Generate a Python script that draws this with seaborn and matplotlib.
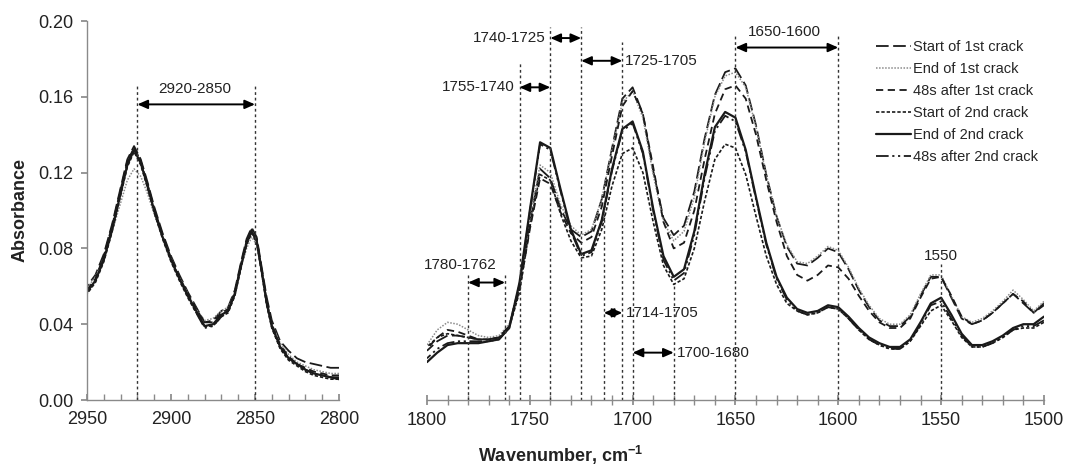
import numpy as np
import pandas as pd
import seaborn as sns
import matplotlib.pyplot as plt
from matplotlib.ticker import MultipleLocator, FormatStrFormatter

series_names = ["Start of 1st crack", "End of 1st crack", "48s after 1st crack",
                "Start of 2nd crack", "End of 2nd crack", "48s after 2nd crack"]

# painel esquerdo (C-H)
wn_left = [2950, 2945, 2940, 2935, 2930, 2926, 2922, 2918, 2914, 2910, 2905, 2900,
           2895, 2890, 2885, 2880, 2875, 2870, 2866, 2862, 2858, 2855, 2852, 2849,
           2846, 2843, 2840, 2835, 2830, 2825, 2820, 2815, 2810, 2805, 2800]
left_start1 = [0.060, 0.066, 0.077, 0.093, 0.112, 0.127, 0.134, 0.127, 0.115, 0.102, 0.088, 0.076,
               0.066, 0.057, 0.049, 0.041, 0.042, 0.047, 0.049, 0.058, 0.074, 0.085, 0.091, 0.086,
               0.070, 0.054, 0.042, 0.031, 0.026, 0.022, 0.020, 0.019, 0.018, 0.017, 0.017]
left_end1 = [0.059, 0.065, 0.075, 0.089, 0.104, 0.116, 0.122, 0.118, 0.109, 0.098, 0.086, 0.075,
             0.065, 0.056, 0.048, 0.042, 0.043, 0.047, 0.049, 0.057, 0.071, 0.080, 0.086, 0.082,
             0.067, 0.051, 0.040, 0.030, 0.024, 0.020, 0.018, 0.016, 0.015, 0.014, 0.014]
left_after1 = [0.058, 0.064, 0.076, 0.092, 0.111, 0.126, 0.133, 0.126, 0.114, 0.101, 0.087, 0.075,
               0.065, 0.056, 0.048, 0.041, 0.041, 0.046, 0.048, 0.057, 0.073, 0.084, 0.090, 0.085,
               0.069, 0.052, 0.040, 0.029, 0.023, 0.019, 0.017, 0.015, 0.014, 0.013, 0.013]
left_start2 = [0.056, 0.062, 0.073, 0.089, 0.108, 0.123, 0.131, 0.124, 0.112, 0.099, 0.085, 0.073,
               0.063, 0.054, 0.046, 0.039, 0.039, 0.044, 0.046, 0.055, 0.071, 0.082, 0.088, 0.083,
               0.067, 0.050, 0.038, 0.027, 0.021, 0.018, 0.015, 0.013, 0.012, 0.011, 0.011]
left_end2 = [0.057, 0.063, 0.074, 0.090, 0.109, 0.124, 0.132, 0.125, 0.113, 0.100, 0.086, 0.074,
             0.064, 0.055, 0.047, 0.039, 0.040, 0.045, 0.047, 0.056, 0.072, 0.083, 0.089, 0.084,
             0.068, 0.051, 0.039, 0.028, 0.022, 0.019, 0.016, 0.014, 0.013, 0.012, 0.011]
left_after2 = [0.057, 0.063, 0.075, 0.091, 0.110, 0.125, 0.133, 0.126, 0.113, 0.100, 0.086, 0.074,
               0.064, 0.055, 0.046, 0.038, 0.039, 0.044, 0.047, 0.056, 0.072, 0.083, 0.089, 0.084,
               0.068, 0.051, 0.039, 0.028, 0.022, 0.019, 0.016, 0.014, 0.013, 0.012, 0.012]

# painel direito (1800-1500), passo de 5 cm-1
wn_right = list(range(1800, 1499, -5))
right_start1 = [0.026, 0.031, 0.034, 0.034, 0.033, 0.032, 0.032, 0.033, 0.039, 0.060,
                0.094, 0.122, 0.117, 0.101, 0.090, 0.086, 0.089, 0.106, 0.133, 0.159,
                0.165, 0.151, 0.121, 0.096, 0.087, 0.092, 0.110, 0.138, 0.161, 0.173,
                0.175, 0.166, 0.145, 0.119, 0.097, 0.081, 0.072, 0.071, 0.075, 0.080,
                0.078, 0.069, 0.058, 0.049, 0.042, 0.039, 0.039, 0.044, 0.055, 0.065,
                0.065, 0.054, 0.043, 0.040, 0.042, 0.046, 0.051, 0.056, 0.051, 0.046,
                0.051]
right_end1 = [0.029, 0.037, 0.041, 0.040, 0.037, 0.034, 0.033, 0.034, 0.040, 0.061,
              0.096, 0.124, 0.120, 0.103, 0.092, 0.087, 0.090, 0.106, 0.132, 0.157,
              0.163, 0.149, 0.119, 0.094, 0.084, 0.089, 0.107, 0.136, 0.160, 0.171,
              0.173, 0.165, 0.144, 0.119, 0.097, 0.082, 0.073, 0.072, 0.076, 0.081,
              0.079, 0.070, 0.059, 0.050, 0.043, 0.040, 0.040, 0.045, 0.056, 0.066,
              0.066, 0.055, 0.044, 0.041, 0.043, 0.047, 0.052, 0.058, 0.053, 0.047,
              0.052]
right_after1 = [0.027, 0.033, 0.037, 0.036, 0.034, 0.032, 0.032, 0.033, 0.039, 0.058,
                0.090, 0.117, 0.114, 0.099, 0.088, 0.083, 0.086, 0.102, 0.129, 0.155,
                0.163, 0.151, 0.123, 0.094, 0.080, 0.083, 0.100, 0.127, 0.151, 0.164,
                0.166, 0.159, 0.140, 0.116, 0.094, 0.076, 0.066, 0.063, 0.066, 0.071,
                0.070, 0.064, 0.055, 0.047, 0.041, 0.038, 0.038, 0.043, 0.054, 0.064,
                0.065, 0.055, 0.044, 0.040, 0.042, 0.046, 0.051, 0.056, 0.052, 0.046,
                0.050]
right_start2 = [0.028, 0.033, 0.035, 0.034, 0.033, 0.032, 0.032, 0.033, 0.038, 0.057,
                0.091, 0.119, 0.116, 0.098, 0.084, 0.075, 0.076, 0.090, 0.113, 0.130,
                0.133, 0.120, 0.094, 0.071, 0.061, 0.064, 0.080, 0.105, 0.127, 0.135,
                0.133, 0.119, 0.097, 0.076, 0.061, 0.051, 0.047, 0.045, 0.046, 0.049,
                0.048, 0.043, 0.037, 0.032, 0.029, 0.027, 0.027, 0.031, 0.039, 0.047,
                0.050, 0.042, 0.033, 0.028, 0.028, 0.030, 0.033, 0.037, 0.038, 0.038,
                0.041]
right_end2 = [0.020, 0.025, 0.029, 0.030, 0.030, 0.030, 0.031, 0.032, 0.038, 0.062,
              0.100, 0.136, 0.133, 0.111, 0.090, 0.077, 0.079, 0.095, 0.122, 0.143,
              0.147, 0.131, 0.101, 0.076, 0.065, 0.069, 0.089, 0.119, 0.144, 0.152,
              0.149, 0.132, 0.107, 0.083, 0.065, 0.054, 0.048, 0.046, 0.047, 0.050,
              0.049, 0.044, 0.038, 0.033, 0.030, 0.028, 0.028, 0.032, 0.041, 0.051,
              0.054, 0.045, 0.035, 0.029, 0.029, 0.031, 0.034, 0.038, 0.040, 0.040,
              0.044]
right_after2 = [0.022, 0.027, 0.030, 0.031, 0.031, 0.031, 0.031, 0.032, 0.038, 0.061,
                0.099, 0.135, 0.132, 0.110, 0.089, 0.076, 0.078, 0.094, 0.121, 0.142,
                0.146, 0.130, 0.100, 0.074, 0.063, 0.067, 0.087, 0.117, 0.142, 0.150,
                0.147, 0.131, 0.106, 0.082, 0.064, 0.053, 0.047, 0.045, 0.046, 0.049,
                0.048, 0.043, 0.037, 0.032, 0.029, 0.027, 0.027, 0.031, 0.040, 0.050,
                0.052, 0.043, 0.034, 0.028, 0.028, 0.030, 0.033, 0.037, 0.039, 0.039,
                0.042]

# faixas marcadas (linhas verticais e setas)
left_marks = [2920, 2850]
left_marks_top = [0.167, 0.167]
right_marks = [1780, 1762, 1755, 1740, 1725, 1714, 1705, 1700, 1680, 1650, 1600, 1550]
right_marks_top = [0.066, 0.066, 0.178, 0.197, 0.197, 0.100, 0.189, 0.140, 0.060, 0.192, 0.192, 0.072]
arrow_from = [1780, 1755, 1740, 1725, 1714, 1700, 1650]
arrow_to = [1762, 1740, 1725, 1705, 1705, 1680, 1600]
arrow_y = [0.062, 0.165, 0.191, 0.179, 0.046, 0.025, 0.186]
band_labels = ["1780-1762", "1755-1740", "1740-1725", "1725-1705", "1714-1705", "1700-1680", "1650-1600", "1550"]
band_label_x = [1784, 1757.5, 1742.5, 1704, 1703.5, 1678.5, 1626, 1550]
band_label_y = [0.071, 0.165, 0.191, 0.179, 0.046, 0.025, 0.194, 0.076]
band_label_ha = ["center", "right", "right", "left", "left", "left", "center", "center"]

left_data = [left_start1, left_end1, left_after1, left_start2, left_end2, left_after2]
right_data = [right_start1, right_end1, right_after1, right_start2, right_end2, right_after2]

# --- Estilos ---
line_colors = ["#1a1a1a", "#8a8a8a", "#1a1a1a", "#1a1a1a", "#1a1a1a", "#1a1a1a"]
line_styles = [(0, (7, 2.5)), (0, (1, 1)), (0, (4, 2.5)), (0, (2, 1.2)), "-", (0, (7, 2, 1.2, 2, 1.2, 2))]
line_widths = [1.3, 1.1, 1.3, 1.2, 1.6, 1.3]

sns.set_theme(style="white")
plt.rcParams["font.family"] = ["Liberation Sans", "DejaVu Sans"]
plt.rcParams["mathtext.fontset"] = "custom"
plt.rcParams["mathtext.rm"] = "Liberation Sans"
plt.rcParams["mathtext.bf"] = "Liberation Sans:bold"

fig = plt.figure(figsize=(10.65, 4.73), dpi=100)
ax1 = fig.add_axes([0.0817, 0.1543, 0.2366, 0.8013])
ax2 = fig.add_axes([0.4009, 0.1543, 0.5793, 0.8013])

for i, name in enumerate(series_names):
    sns.lineplot(x=wn_left, y=left_data[i], ax=ax1, color=line_colors[i],
                 linestyle=line_styles[i], lw=line_widths[i], legend=False)
    sns.lineplot(x=wn_right, y=right_data[i], ax=ax2, color=line_colors[i],
                 linestyle=line_styles[i], lw=line_widths[i], label=name)

# --- Linhas verticais e setas ---
ax1.vlines(left_marks, 0, left_marks_top, colors="#333333", linestyles=(0, (2, 2)), lw=1)
ax2.vlines(right_marks, 0, right_marks_top, colors="#333333", linestyles=(0, (2, 2)), lw=1)

arrow_kw = dict(arrowstyle="<|-|>,head_length=0.5,head_width=0.22", color="black",
                lw=1.4, shrinkA=0, shrinkB=0, mutation_scale=12)
ax1.annotate("", xy=(left_marks[0], 0.156), xytext=(left_marks[1], 0.156), arrowprops=arrow_kw)
ax1.text(2886, 0.164, "2920-2850", fontsize=11, ha="center", va="center", color="#222222")
for a, b, y in zip(arrow_from, arrow_to, arrow_y):
    ax2.annotate("", xy=(a, y), xytext=(b, y), arrowprops=arrow_kw)
for lab, x, y, ha in zip(band_labels, band_label_x, band_label_y, band_label_ha):
    ax2.text(x, y, lab, fontsize=11, ha=ha, va="center", color="#222222")

# --- Eixos ---
for ax in (ax1, ax2):
    ax.set_ylim(0, 0.2)
    ax.set_xlabel("")
    ax.set_ylabel("")
    for s in ["top", "right"]:
        ax.spines[s].set_visible(False)
    for s in ["left", "bottom"]:
        ax.spines[s].set_color("#8a8a8a")
        ax.spines[s].set_linewidth(1)

ax1.set_xlim(2950, 2800)
ax1.xaxis.set_major_locator(MultipleLocator(50))
ax1.xaxis.set_minor_locator(MultipleLocator(10))
ax1.yaxis.set_major_locator(MultipleLocator(0.04))
ax1.yaxis.set_major_formatter(FormatStrFormatter("%.2f"))
ax1.tick_params(axis="x", which="both", direction="in", length=4, color="#8a8a8a",
                labelsize=13, pad=8, labelcolor="#222222", bottom=True)
ax1.tick_params(axis="y", direction="out", length=4, color="#8a8a8a",
                labelsize=13, pad=6, labelcolor="#222222", left=True)

ax2.set_xlim(1800, 1500)
ax2.xaxis.set_major_locator(MultipleLocator(50))
ax2.xaxis.set_minor_locator(MultipleLocator(10))
ax2.spines["left"].set_visible(False)
ax2.set_yticks([])
ax2.tick_params(axis="x", which="both", direction="inout", length=7, color="#8a8a8a",
                labelsize=13, pad=5, labelcolor="#222222", bottom=True)

ax2.legend(loc="upper left", bbox_to_anchor=(0.823, 0.915), bbox_transform=fig.transFigure,
           frameon=False, fontsize=10.5, handlelength=2.4, handletextpad=0.1,
           labelspacing=0.55, borderpad=0, borderaxespad=0)

fig.text(0.019, 0.556, "Absorbance", rotation=90, ha="center", va="center",
         fontsize=13, fontweight="bold", color="#222222")
fig.text(0.526, 0.038, r"Wavenumber, cm$^{\mathbf{-1}}$", ha="center", va="center",
         fontsize=13, fontweight="bold", color="#222222")

plt.savefig("out.png", dpi=100)
